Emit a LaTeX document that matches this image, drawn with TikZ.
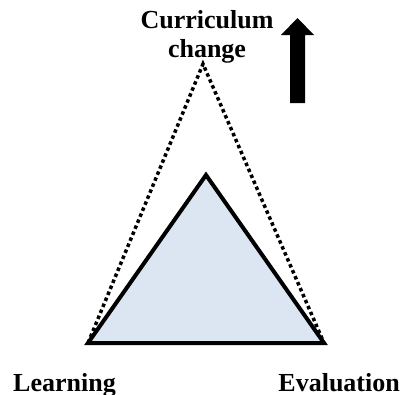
\documentclass[tikz,border=0pt]{standalone}
\usepackage{fontspec}
\setmainfont{Liberation Serif}
\usepackage{tikz}
\definecolor{paleblue}{HTML}{DCE6F2}

\begin{document}
\begin{tikzpicture}[x=1pt, y=-1pt]
\tikzstyle{label}=[font=\fontsize{26}{29}\selectfont\bfseries, inner sep=0pt, align=center]
\tikzstyle{solidtri}=[draw, line width=4pt, line join=miter, fill=paleblue]
\tikzstyle{dottri}=[draw, line width=3.5pt, dash pattern=on 3.5pt off 3pt]
\useasboundingbox (0,0) rectangle (404,394);

\coordinate (l) at (88,343);
\coordinate (r) at (324,343);
\coordinate (top) at (206,175);
\coordinate (peak) at (203,64);

% the current triangle
\path[solidtri] (l) -- (top) -- (r) -- cycle;
% the stretched one
\path[dottri] (l) -- (peak) -- (r) -- cycle;

\node[label, anchor=base] (curr) at (207,57) {Curriculum\\change};
\node[label, anchor=base west] (learn) at (13,391) {Learning};
\node[label, anchor=base east] (eval) at (400,391) {Evaluation};

% upward arrow
\fill (290,103) -- (290,35) -- (281,35) -- (297.5,18) -- (314,35)
      -- (305,35) -- (305,103) -- cycle;

\end{tikzpicture}
\end{document}
